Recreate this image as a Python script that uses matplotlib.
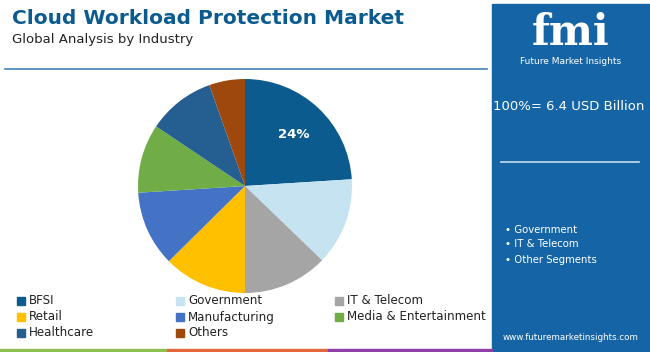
import numpy as np
import matplotlib.pyplot as plt
from matplotlib.patches import Rectangle

# data
segments = ['BFSI', 'Government', 'IT & Telecom', 'Retail', 'Manufacturing',
            'Media & Entertainment', 'Healthcare', 'Others']
shares = [24.0, 13.2, 12.8, 12.6, 11.4, 10.4, 10.2, 5.4]
colors = ['#0b5b8f', '#c6e3f2', '#a5a5a5', '#ffc000', '#4472c4',
          '#70ad47', '#255e91', '#9e480e']
side_items = ['Government', 'IT & Telecom', 'Other Segments']
total_text = '100%= 6.4 USD Billion'

W, H = 650, 352
fig = plt.figure(figsize=(W / 100, H / 100), dpi=100)

# background canvas in pixel coords
bg = fig.add_axes([0, 0, 1, 1])
bg.set_xlim(0, W)
bg.set_ylim(H, 0)
bg.axis('off')

title_c = '#0b5b8f'
bg.text(12, 18, 'Cloud Workload Protection Market', fontsize=14.5,
        fontweight='bold', color=title_c, va='center', ha='left')
bg.text(12, 40, 'Global Analysis by Industry', fontsize=9.5,
        color='#222222', va='center', ha='left')
bg.plot([5, 487], [69, 69], color='#3f85b5', lw=1.2)

# right panel
bg.add_patch(Rectangle((492, 4), W - 492, H - 4, color='#1565a6', zorder=1))
bg.text(571, 33, 'fmi', fontsize=30, fontweight='bold', color='white',
        ha='center', va='center', family='DejaVu Serif', zorder=3)
bg.text(571, 61, 'Future Market Insights', fontsize=6.5, color='white',
        ha='center', va='center', zorder=3)
bg.text(569, 107, total_text, fontsize=9.5, color='white',
        ha='center', va='center', zorder=3)
bg.plot([501, 639], [162, 162], color='#c9dcec', lw=1.2, zorder=3)
for i, item in enumerate(side_items):
    y = [230, 244, 260][i]
    bg.text(505, y, '\u2022 ' + item, fontsize=7.3, color='white',
            ha='left', va='center', zorder=3)
bg.text(571, 338, 'www.futuremarketinsights.com', fontsize=6.3, color='white',
        ha='center', va='center', zorder=3)

# bottom strips
bg.add_patch(Rectangle((0, 349), 167, 3, color='#8cc152', zorder=2))
bg.add_patch(Rectangle((167, 349), 161, 3, color='#e2673a', zorder=2))
bg.add_patch(Rectangle((328, 349), 164, 3, color='#8e3fa8', zorder=2))

# pie
cx, cy, r = 245, 186, 107
pax = fig.add_axes([(cx - r) / W, (H - cy - r) / H, 2 * r / W, 2 * r / H])
wedges, _ = pax.pie(shares, colors=colors, startangle=90, counterclock=False,
                    radius=1, wedgeprops=dict(linewidth=0))
pax.set_xlim(-1, 1)
pax.set_ylim(-1, 1)
pax.set_aspect('equal')
w0 = wedges[0]
mid = np.deg2rad((w0.theta1 + w0.theta2) / 2)
pax.text(0.66 * np.cos(mid), 0.66 * np.sin(mid), f'{shares[0]:.0f}%',
         color='white', fontsize=9.5, fontweight='bold', ha='center', va='center')

# legend
col_x = [17, 176, 335]
row_y = [301, 317, 333]
for i, (lab, c) in enumerate(zip(segments, colors)):
    x = col_x[i % 3]
    y = row_y[i // 3]
    bg.add_patch(Rectangle((x, y - 4), 8, 8, color=c))
    bg.text(x + 12, y, lab, fontsize=8.6, color='#222222', ha='left', va='center')

fig.savefig('out.png', dpi=100)
